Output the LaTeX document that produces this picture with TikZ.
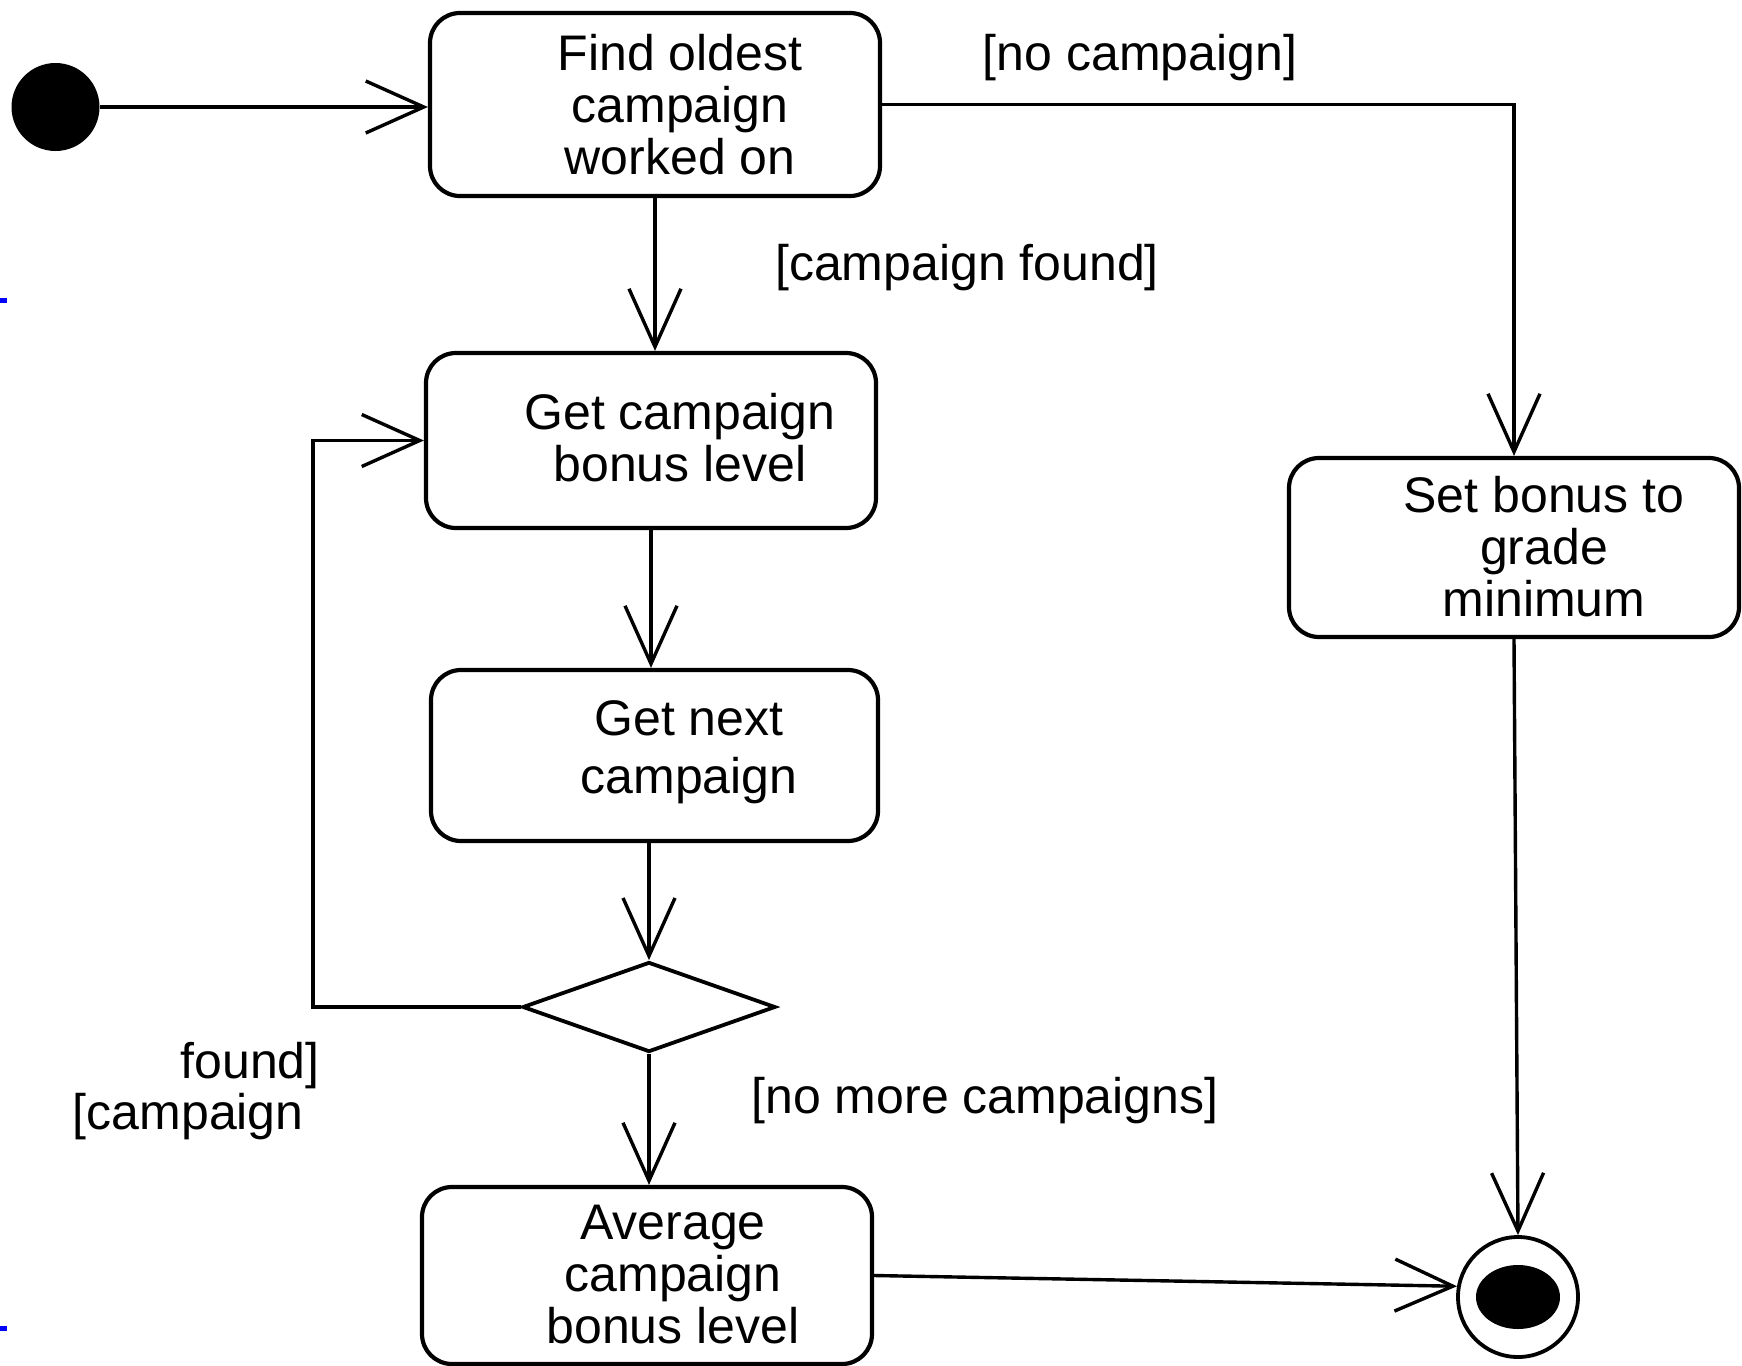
\documentclass[tikz,border=0pt]{standalone}
\usepackage{fontspec}
\setmainfont{Liberation Sans}
\usetikzlibrary{shapes.geometric,arrows.meta}
\begin{document}
\begin{tikzpicture}[x=0.5pt,y=-0.5pt,
  font=\fontsize{25}{26}\selectfont,
  act/.style={draw, line width=2.1pt, rounded corners=15pt, minimum width=225pt, inner sep=0pt},
  flow/.style={line width=1.7pt, -{Straight Barb[length=29pt,width=26pt,line width=1.7pt]}},
  lbl/.style={align=center, inner sep=0pt},
  guard/.style={inner sep=0pt}]
\useasboundingbox (0,0) rectangle (1742,1366);
\fill[blue] (0,298) rectangle (7,303);
\fill[blue] (0,1326) rectangle (7,1331);
% nodes
\node[circle, fill, minimum size=44pt, inner sep=0pt] (init) at (55.5,107) {};
\node[act, minimum height=91.5pt] (b1) at (655,104.5) {};
\node[lbl] (t1) at (680,105) {Find oldest\\campaign\\worked on};
\node[act, minimum height=87.5pt] (b2) at (651,440.5) {};
\node[lbl] (t2) at (680,438) {Get campaign\\bonus level};
\node[act, minimum height=85.5pt, minimum width=223.5pt] (b3) at (654.5,755.5) {};
\node[lbl] (t3) at (689,752) {Get next\\[3pt]campaign};
\node[diamond, draw, line width=1.9pt, minimum width=126.5pt, minimum height=45pt, inner sep=0pt] (d) at (649,1007) {};
\node[act, minimum height=88.5pt] (b4) at (647,1275.5) {};
\node[lbl] (t4) at (673,1275) {Average\\campaign\\bonus level};
\node[act, minimum height=89.5pt] (b5) at (1514,547.5) {};
\node[lbl] (t5) at (1544,547) {Set bonus to\\grade\\minimum};
\node[circle, draw, line width=1.9pt, minimum size=60pt, inner sep=0pt] (fin) at (1518,1297) {};
\fill (fin.center) ellipse [x radius=21pt, y radius=16pt];
% guards
\node[guard] (g1) at (1140,58) {[no campaign]};
\node[guard] (g2) at (967,268) {[campaign found]};
\node[guard, anchor=east] (g3a) at (320,1066) {found]};
\node[guard, anchor=east] (g3b) at (304,1117) {[campaign};
\node[guard] (g4) at (985,1101) {[no more campaigns]};
% connectors
\coordinate (lp) at (313,440.5);
\draw[flow] (init) -- (init -| b1.west);
\draw[flow] (b1.east) -| (b5.north);
\draw[flow] (b1.south) -- (b1.south |- b2.north);
\draw[flow] (b2.south) -- (b2.south |- b3.north);
\draw[flow] (b3.south -| d.north) -- (d.north);
\draw[flow] (d.south) -- (d.south |- b4.north);
\draw[flow] (d.west) -| (lp) -- (b2.west);
\draw[flow] (b4.east) -- (fin.170);
\draw[flow] (b5.south) -- (fin.north);
\end{tikzpicture}
\end{document}
